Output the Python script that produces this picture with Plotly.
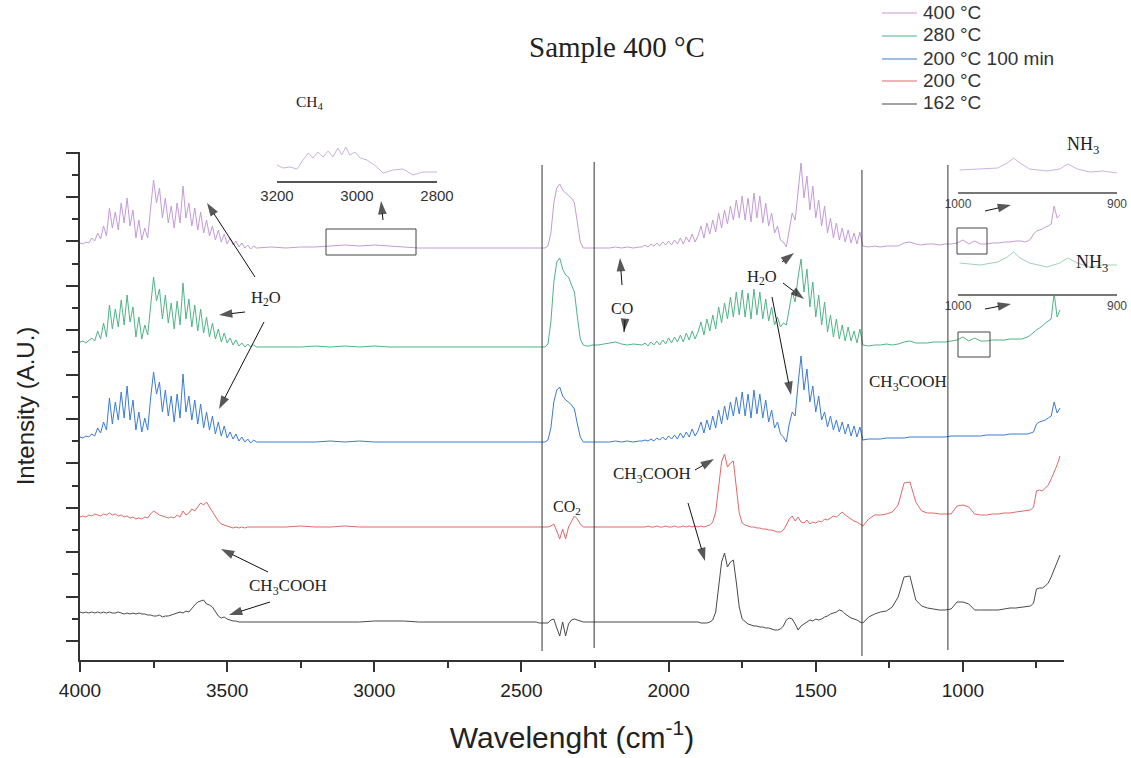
import plotly.graph_objects as go

# ---------------- data ----------------
# sampling grid (cm^-1), shared by all spectra
wavenumber = (list(range(4000, 3399, -10)) + list(range(3350, 2449, -50)) +
              list(range(2440, 2239, -10)) + list(range(2220, 2099, -20)) +
              list(range(2090, 1339, -10)) + list(range(1320, 799, -20)) +
              list(range(790, 669, -10)))

series_names = ["400 °C", "280 °C", "200 °C 100 min", "200 °C", "162 °C"]
series_offsets = [393, 294, 199, 114, 19]          # stacking offsets (a.u.)
series_colors = ["#c49bd8", "#4fb487", "#3b7bd4", "#e06868", "#4a4a4a"]

int_400 = (
    [5, 4, 6, 5, 10, 7, 15, 9, 22, 12, 40, 20, 36, 18, 45, 25, 50, 22, 38, 10,
     28, 8, 20, 10, 40, 68, 45, 60, 30, 50, 25, 42, 20, 45, 25, 62, 30, 45, 22, 40,
     18, 36, 15, 28, 12, 22, 8, 18, 6, 14, 4, 10, 3, 7, 1, 5, 0, 3, -1, 2, 0] +
    [1, 0, 1, 1, 2, 3, 2, 3, 2, 1, 0, 0, 0, 0, 0, 0, 0, 0, 0] +
    [0, 0, 0, 2, 15, 45, 60, 64, 58, 55, 52, 50, 45, 25, 6, 0, 0, 0, 0, 0, 0] +
    [0, 0, 1, 0, 1, 0, 1] +
    [1, 3, 1, 4, 2, 5, 2, 6, 3, 7, 3, 8, 4, 10, 4, 11, 6, 14, 6, 12,
     22, 10, 25, 14, 28, 16, 35, 20, 38, 24, 42, 28, 48, 30, 52, 28, 50, 26, 55, 30,
     52, 25, 45, 22, 35, 15, 22, 8, 6, 1, 20, 35, 28, 60, 85, 50, 72, 38, 62, 30,
     48, 22, 42, 15, 30, 10, 25, 8, 20, 6, 18, 5, 15, 4, 16, 2] +
    [1, 2, 1, 2, 2, 2, 5, 6, 4, 3, 4, 4, 3, 4, 4, 5, 8, 4, 7, 4, 4, 5, 5, 6, 6, 7, 7] +
    [6, 7, 9, 14, 17, 18, 19, 21, 22, 24, 42, 30, 33]
)

int_280 = (
    [5, 6, 4, 7, 9, 6, 16, 8, 24, 10, 42, 18, 38, 20, 47, 22, 52, 25, 40, 10,
     30, 8, 22, 12, 42, 70, 46, 58, 28, 52, 24, 44, 18, 46, 22, 64, 28, 48, 20, 42,
     16, 38, 14, 30, 10, 24, 8, 18, 5, 14, 4, 9, 2, 7, 1, 4, 0, 3, 0, 2, 0] +
    [0, 0, 0, 1, 0, 1, 0, 1, 0, 0, 0, 0, 0, 0, 0, 0, 0, 0, 0] +
    [0, 0, 0, 3, 25, 65, 85, 89, 78, 72, 70, 62, 55, 30, 8, 2, 1, 1, 2, 2, 2] +
    [3, 4, 5, 3, 2, 3, 2] +
    [2, 4, 1, 5, 2, 6, 2, 7, 3, 9, 4, 10, 5, 12, 5, 14, 7, 16, 8, 15,
     25, 12, 28, 16, 32, 18, 40, 24, 44, 28, 50, 30, 55, 32, 57, 30, 54, 28, 58, 32,
     55, 28, 48, 26, 40, 22, 30, 20, 24, 22, 40, 55, 45, 70, 88, 55, 78, 40, 65, 30,
     52, 22, 45, 15, 32, 10, 28, 8, 22, 6, 20, 6, 16, 4, 18, 2] +
    [1, 2, 2, 3, 2, 3, 5, 6, 4, 4, 4, 5, 5, 5, 6, 7, 10, 6, 9, 6, 6, 7, 7, 7, 8, 8, 8] +
    [9, 10, 12, 15, 17, 19, 21, 24, 26, 28, 54, 30, 37]
)

int_200_100 = (
    [5, 4, 6, 5, 8, 6, 14, 9, 20, 12, 44, 18, 40, 22, 50, 24, 56, 22, 42, 12,
     30, 10, 24, 12, 44, 70, 48, 60, 30, 52, 26, 46, 20, 48, 24, 68, 30, 46, 22, 42,
     18, 38, 14, 30, 12, 26, 8, 20, 6, 16, 4, 10, 3, 8, 1, 5, 0, 3, -1, 2, 0] +
    [0, 0, 0, 0, 1, 0, 1, 0, 0, 0, 0, 0, 0, 0, 0, 0, 0, 0, 0] +
    [0, 0, 0, 2, 14, 40, 52, 55, 46, 42, 40, 37, 33, 18, 5, 0, 0, 0, 0, 0, 0] +
    [0, 0, 1, 0, 1, 0, 1] +
    [1, 2, 1, 3, 1, 4, 2, 5, 2, 6, 3, 7, 3, 9, 4, 10, 5, 13, 6, 11,
     20, 9, 22, 12, 26, 14, 32, 18, 36, 22, 40, 26, 45, 28, 50, 26, 48, 24, 52, 28,
     48, 24, 42, 20, 32, 14, 20, 8, 5, 0, 18, 30, 26, 58, 86, 52, 73, 40, 56, 30,
     46, 22, 30, 15, 26, 12, 22, 10, 20, 8, 18, 6, 16, 5, 15, 2] +
    [3, 3, 3, 4, 4, 4, 4, 5, 5, 5, 5, 5, 5, 5, 6, 6, 6, 6, 6, 6, 7, 7, 7, 7, 8, 8, 8] +
    [8, 8, 9, 10, 18, 20, 21, 22, 24, 26, 40, 29, 34]
)

int_200 = (
    [10, 11, 10, 12, 11, 13, 12, 11, 13, 12, 14, 12, 13, 11, 12, 10, 11, 9, 10, 8,
     9, 8, 10, 9, 13, 16, 14, 12, 11, 10, 9, 10, 9, 12, 10, 16, 12, 14, 18, 16,
     20, 24, 22, 25, 20, 15, 10, 6, 3, 2, 1, 0, -1, 0, -1, 0, -1, 0, 0, 0, 0] +
    [0, 0, 1, 0, 0, 1, 0, 0, 0, 0, 0, 0, 0, 0, 0, 0, 0, 0, 0] +
    [0, 0, 0, 0, 1, 3, -4, -12, -2, -12, 0, 6, 11, 8, 3, 0, 0, 0, 0, 0, 0] +
    [0, 0, 0, 0, 0, 0, 0] +
    [0, 0, 1, 0, 0, 1, 0, 0, 1, 0, 0, 1, 0, 0, 1, 0, 1, 0, 1, 0,
     1, 0, 1, 2, 5, 15, 40, 65, 73, 60, 64, 66, 40, 14, 4, 2, 1, 0, 0, -1,
     -1, -2, -2, -3, -3, -4, -5, -5, -3, 2, 8, 11, 6, 10, 5, 4, 7, 3, 5, 4,
     6, 5, 8, 7, 9, 11, 10, 13, 15, 12, 10, 8, 6, 5, 3, 1] +
    [8, 12, 12, 13, 15, 22, 44, 45, 25, 16, 14, 14, 13, 13, 13, 21, 22, 20, 13, 12,
     12, 13, 13, 14, 14, 15, 16] +
    [16, 17, 17, 20, 36, 37, 36, 39, 42, 48, 55, 62, 71]
)

int_162 = (
    [10, 9, 10, 9, 10, 9, 10, 9, 10, 9, 10, 9, 9, 10, 9, 8, 9, 8, 9, 8,
     9, 8, 8, 7, 7, 6, 6, 7, 5, 6, 6, 7, 8, 9, 10, 9, 11, 10, 14, 17,
     20, 21, 22, 18, 17, 15, 10, 6, 4, 5, 3, 2, 1, 1, 0, 0, 0, 0, 0, 0, 0] +
    [0, 0, 0, 0, 0, 0, 0, 1, 1, 1, 0, 0, 0, 0, 0, 0, 0, 0, 0] +
    [-1, -1, -1, -1, 2, 3, -6, -14, 0, -14, -2, 2, 3, 2, 1, 0, 0, 0, 0, 0, 0] +
    [0, 0, 0, 0, 0, 0, 0] +
    [0, 0, 0, 0, 0, 0, 0, 0, 0, 0, 0, 0, 0, 0, 0, 0, 0, 0, 0, 0,
     -1, -1, -1, 0, 2, 10, 35, 60, 69, 55, 60, 62, 40, 15, 3, 0, -2, -3, -4, -4,
     -5, -5, -6, -6, -7, -8, -8, -7, -4, 2, 4, 3, -2, -8, -4, -2, 0, 2, 1, 3,
     2, 3, 5, 6, 8, 9, 10, 12, 11, 8, 6, 4, 3, 2, 0, -1] +
    [5, 8, 10, 11, 15, 25, 45, 46, 22, 16, 14, 13, 12, 12, 13, 20, 20, 18, 12, 12,
     12, 12, 12, 13, 14, 14, 15] +
    [15, 16, 16, 19, 33, 34, 34, 36, 39, 45, 52, 59, 67]
)

series_intensity = [int_400, int_280, int_200_100, int_200, int_162]

# inset spectra
ch4_wn = [3200, 3185, 3168, 3150, 3135, 3122, 3110, 3098, 3085, 3072, 3060, 3048, 3038,
          3028, 3018, 3005, 2992, 2975, 2950, 2935, 2910, 2885, 2860, 2835, 2800]
ch4_int = [16, 13, 14, 12, 21, 28, 23, 29, 24, 30, 24, 33, 26, 34, 26, 29, 23, 21, 14,
           8, 11, 12, 6, 9, 9]
nh3_wn = [999, 986, 975, 969, 965, 961, 955, 944, 936, 931, 925, 917, 909, 900]
nh3_int_400 = [22, 23, 24, 29, 34, 29, 23, 21, 23, 28, 23, 20, 21, 19]
nh3_int_280 = [31, 29, 32, 37, 42, 36, 31, 27, 31, 36, 31, 27, 29, 29]

marker_lines_wn = [2430, 2253, 1343, 1051]
marker_lines_y = [(-10, 476), (-7, 479), (-15, 471), (-9, 476)]

# ---------------- figure ----------------
W, H = 1131, 758
ML, MR, MT, MB = 80, 5, 0, 98
PW, PH = W - ML - MR, H - MT - MB
X_RANGE = [4000, 656.5]
Y_RANGE = [-19, 489]
PLOT_W, PLOT_H = 984, 508


def xp(px):
    return (px - ML) / PW


def yp(py):
    return (PH - py) / PH


def data_x(px):  # pixel -> main x axis value (for annotation arrows)
    return X_RANGE[0] + (px - ML) * (X_RANGE[1] - X_RANGE[0]) / PLOT_W


def data_y(py):  # pixel -> main y axis value (for annotation arrows)
    return Y_RANGE[0] + (PH - py) * (Y_RANGE[1] - Y_RANGE[0]) / PLOT_H


fig = go.Figure()
for name, off, col, vals in zip(series_names, series_offsets, series_colors, series_intensity):
    assert len(vals) == len(wavenumber)
    fig.add_trace(go.Scatter(x=wavenumber, y=[v + off for v in vals], mode="lines",
                             name=name, line=dict(color=col, width=1), showlegend=False))

fig.add_trace(go.Scatter(x=ch4_wn, y=ch4_int, mode="lines", line=dict(color="#cdb4dc", width=1),
                         xaxis="x2", yaxis="y2", showlegend=False))
fig.add_trace(go.Scatter(x=nh3_wn, y=nh3_int_400, mode="lines", line=dict(color="#cdb4dc", width=1),
                         xaxis="x3", yaxis="y3", showlegend=False))
fig.add_trace(go.Scatter(x=nh3_wn, y=nh3_int_280, mode="lines", line=dict(color="#9fd3b8", width=1),
                         xaxis="x4", yaxis="y4", showlegend=False))

# annotation arrows: tail (px, py) -> head (px, py)
arrows = [
    (383, 220, 381, 201),
    (255, 277, 207, 203),
    (245, 312, 219, 315),
    (264, 322, 219, 409),
    (268, 572, 221, 549),
    (270, 602, 229, 615),
    (622, 285, 620, 258),
    (625, 320, 624, 332),
    (782, 262, 794, 253),
    (783, 283, 804, 299),
    (772, 297, 791, 395),
    (688, 503, 705, 561),
    (695, 470, 714, 459),
    (985, 211, 1011, 205),
    (985, 309, 1011, 304),
]
for tx, ty, hx, hy in arrows:
    fig.add_trace(go.Scatter(x=[data_x(tx), data_x(hx)], y=[data_y(ty), data_y(hy)],
                             mode="lines+markers", line=dict(color="#111", width=1),
                             marker=dict(symbol="arrow", size=[0, 14], angleref="previous",
                                         color="#111", line=dict(width=0)),
                             hoverinfo="skip", showlegend=False))

sans = "Liberation Sans, Arial"
serif_family = "Liberation Serif, Times New Roman"
inset_axis = dict(ticks="", showline=True, showgrid=False, zeroline=False, automargin=False)

fig.update_layout(
    width=W, height=H, margin=dict(l=ML, r=MR, t=MT, b=MB, autoexpand=False),
    paper_bgcolor="white", plot_bgcolor="white", showlegend=False,
    font=dict(family=sans, color="#222"),
    xaxis=dict(domain=[0, PLOT_W / PW], range=X_RANGE, tick0=0, dtick=500,
               ticks="outside", ticklen=10, tickwidth=1.5, tickcolor="#333",
               minor=dict(dtick=250, ticks="outside", ticklen=6, tickwidth=1.5, tickcolor="#333"),
               showline=True, linewidth=2, linecolor="#333", showgrid=False, zeroline=False,
               tickfont=dict(family=sans, size=19, color="#222"), ticklabelstandoff=2,
               automargin=False,
               title=dict(text="Wavelenght (cm<sup>-1</sup>)", font=dict(size=30, color="#222"),
                          standoff=27)),
    yaxis=dict(domain=[0, PLOT_H / PH], range=Y_RANGE, tick0=0, dtick=44.4,
               ticks="outside", ticklen=12, tickwidth=1.5, tickcolor="#333",
               minor=dict(dtick=22.2, ticks="outside", ticklen=6, tickwidth=1.5, tickcolor="#333"),
               showticklabels=False, showline=True, linewidth=2, linecolor="#333",
               showgrid=False, zeroline=False, automargin=False,
               title=dict(text="Intensity (A.U.)", font=dict(size=24, color="#222"), standoff=25)),
    xaxis2=dict(inset_axis, domain=[xp(277), xp(437)], anchor="y2", range=[3200, 2800],
                tickvals=[3200, 3000, 2800], linewidth=2, linecolor="#555",
                tickfont=dict(size=15, color="#333")),
    yaxis2=dict(domain=[yp(181), yp(140)], anchor="x2", range=[0, 41], visible=False),
    xaxis3=dict(inset_axis, domain=[xp(958), xp(1117)], anchor="y3", range=[1000, 900],
                tickvals=[1000, 900], linewidth=1.5, linecolor="#777",
                tickfont=dict(size=12, color="#444")),
    yaxis3=dict(domain=[yp(192), yp(150)], anchor="x3", range=[0, 42], visible=False),
    xaxis4=dict(inset_axis, domain=[xp(958), xp(1117)], anchor="y4", range=[1000, 900],
                tickvals=[1000, 900], linewidth=1.5, linecolor="#777",
                tickfont=dict(size=12, color="#444")),
    yaxis4=dict(domain=[yp(294), yp(250)], anchor="x4", range=[0, 44], visible=False),
)

# legend (drawn as line samples + labels)
legend_rows_py = [12, 35, 58, 80, 103]
for name, col, py in zip(series_names, series_colors, legend_rows_py):
    fig.add_shape(type="line", xref="paper", yref="paper", x0=xp(882), x1=xp(917),
                  y0=yp(py + 1), y1=yp(py + 1), line=dict(color=col, width=1.2))
    fig.add_annotation(text=name, x=xp(921), y=yp(py), xref="paper", yref="paper",
                       showarrow=False, xanchor="left", yanchor="middle",
                       font=dict(family=sans, size=19, color="#333"))

# vertical marker lines
for wn_line, (y0, y1) in zip(marker_lines_wn, marker_lines_y):
    fig.add_shape(type="line", xref="x", yref="y", x0=wn_line, x1=wn_line, y0=y0, y1=y1,
                  line=dict(color="#333", width=1))

# zoom boxes
for (x0, y0, x1, y1) in [(326, 229, 416, 255), (957, 228, 987, 254), (958, 332, 990, 357)]:
    fig.add_shape(type="rect", xref="paper", yref="paper", x0=xp(x0), x1=xp(x1),
                  y0=yp(y1), y1=yp(y0), line=dict(color="#444", width=1))

labels = [
    ("Sample 400 °C", 617, 47, 29),
    ("CH<sub>4</sub>", 310, 103, 15.5),
    ("H<sub>2</sub>O", 266, 298, 16.5),
    ("CH<sub>3</sub>COOH", 288, 587, 17),
    ("CO<sub>2</sub>", 567, 507, 16),
    ("CO", 622, 308, 16),
    ("H<sub>2</sub>O", 762, 277, 16.5),
    ("CH<sub>3</sub>COOH", 652, 475, 17),
    ("CH<sub>3</sub>COOH", 908, 383, 17),
    ("NH<sub>3</sub>", 1083, 145, 18),
    ("NH<sub>3</sub>", 1092, 263, 18),
]
for text, px, py, sz in labels:
    fig.add_annotation(text=text, x=xp(px), y=yp(py), xref="paper", yref="paper",
                       showarrow=False, xanchor="center", yanchor="middle",
                       font=dict(family=serif_family, size=sz, color="#222"))

fig.write_html("out.html", config={"displayModeBar": False},
               post_script="document.body.style.margin='0px';document.body.style.overflow='hidden';")
